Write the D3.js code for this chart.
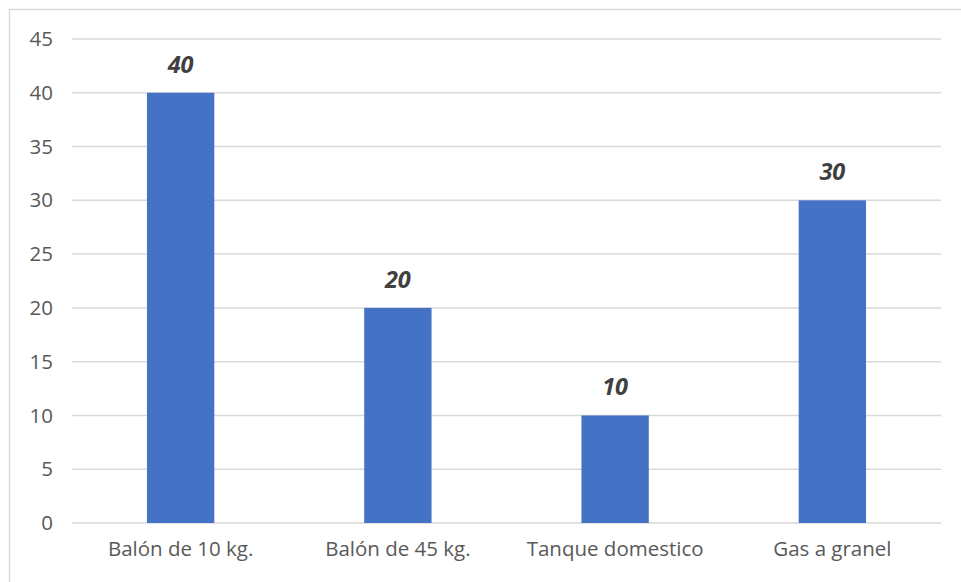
<!DOCTYPE html>
<html>
<head>
<meta charset="utf-8">
<script src="https://cdn.jsdelivr.net/npm/d3@7"></script>
<style>
  html, body { margin: 0; padding: 0; background: #ffffff; }
  svg { display: block; }
</style>
</head>
<body>
<svg id="chart" width="961" height="582"></svg>
<script>
// Data
const categories = ["Balón de 10 kg.", "Balón de 45 kg.", "Tanque domestico", "Gas a granel"];
const values = [40, 20, 10, 30];
const yTicks = [0, 5, 10, 15, 20, 25, 30, 35, 40, 45];

const svg = d3.select("#chart");
const W = 961, H = 582;
const margin = { left: 72, right: 20, top: 39, bottom: 59 };
const FONT = "'Open Sans', 'Noto Sans', sans-serif";

// Outer chart frame (top and left edges visible)
svg.append("path")
  .attr("d", `M9.5,${H} V9.5 H${W}`)
  .attr("fill", "none")
  .attr("stroke", "#d9d9d9")
  .attr("stroke-width", 1.5);

const x = d3.scaleBand()
  .domain(categories)
  .range([margin.left, W - margin.right])
  .paddingInner(0.69)
  .paddingOuter(0.345);

const xGrid = d3.scaleBand().domain(categories).range([margin.left, W - margin.right]);

const y = d3.scaleLinear()
  .domain([0, 45])
  .range([H - margin.bottom, margin.top]);

// Horizontal gridlines
svg.append("g")
  .selectAll("line")
  .data(yTicks)
  .join("line")
  .attr("x1", margin.left)
  .attr("x2", W - margin.right)
  .attr("y1", d => y(d))
  .attr("y2", d => y(d))
  .attr("stroke", "#d9d9d9")
  .attr("stroke-width", 1.5);

// Y axis labels
const yAxis = d3.axisLeft(y).tickValues(yTicks).tickSize(0).tickPadding(0);
const gy = svg.append("g")
  .attr("transform", `translate(${margin.left - 19},0)`)
  .call(yAxis);
gy.select(".domain").remove();
gy.selectAll("text")
  .attr("font-family", FONT)
  .attr("font-size", 20.5)
  .attr("fill", "#595959");

// X axis labels
const xAxis = d3.axisBottom(xGrid).tickSize(0).tickPadding(0);
const gx = svg.append("g")
  .attr("transform", `translate(0,${y(0) + 18})`)
  .call(xAxis);
gx.select(".domain").remove();
gx.selectAll("text")
  .attr("font-family", FONT)
  .attr("font-size", 20.5)
  .attr("fill", "#595959");

// Bars
svg.append("g")
  .selectAll("rect")
  .data(values)
  .join("rect")
  .attr("x", (d, i) => x(categories[i]))
  .attr("width", x.bandwidth())
  .attr("y", d => y(d))
  .attr("height", d => y(0) - y(d))
  .attr("fill", "#4472c4");

// Value labels
svg.append("g")
  .selectAll("text")
  .data(values)
  .join("text")
  .attr("x", (d, i) => x(categories[i]) + x.bandwidth() / 2)
  .attr("y", d => y(d) - 20)
  .attr("text-anchor", "middle")
  .attr("font-family", FONT)
  .attr("font-size", 23.5)
  .attr("font-weight", "bold")
  .attr("font-style", "italic")
  .attr("fill", "#404040")
  .text(d => d);
</script>
</body>
</html>
